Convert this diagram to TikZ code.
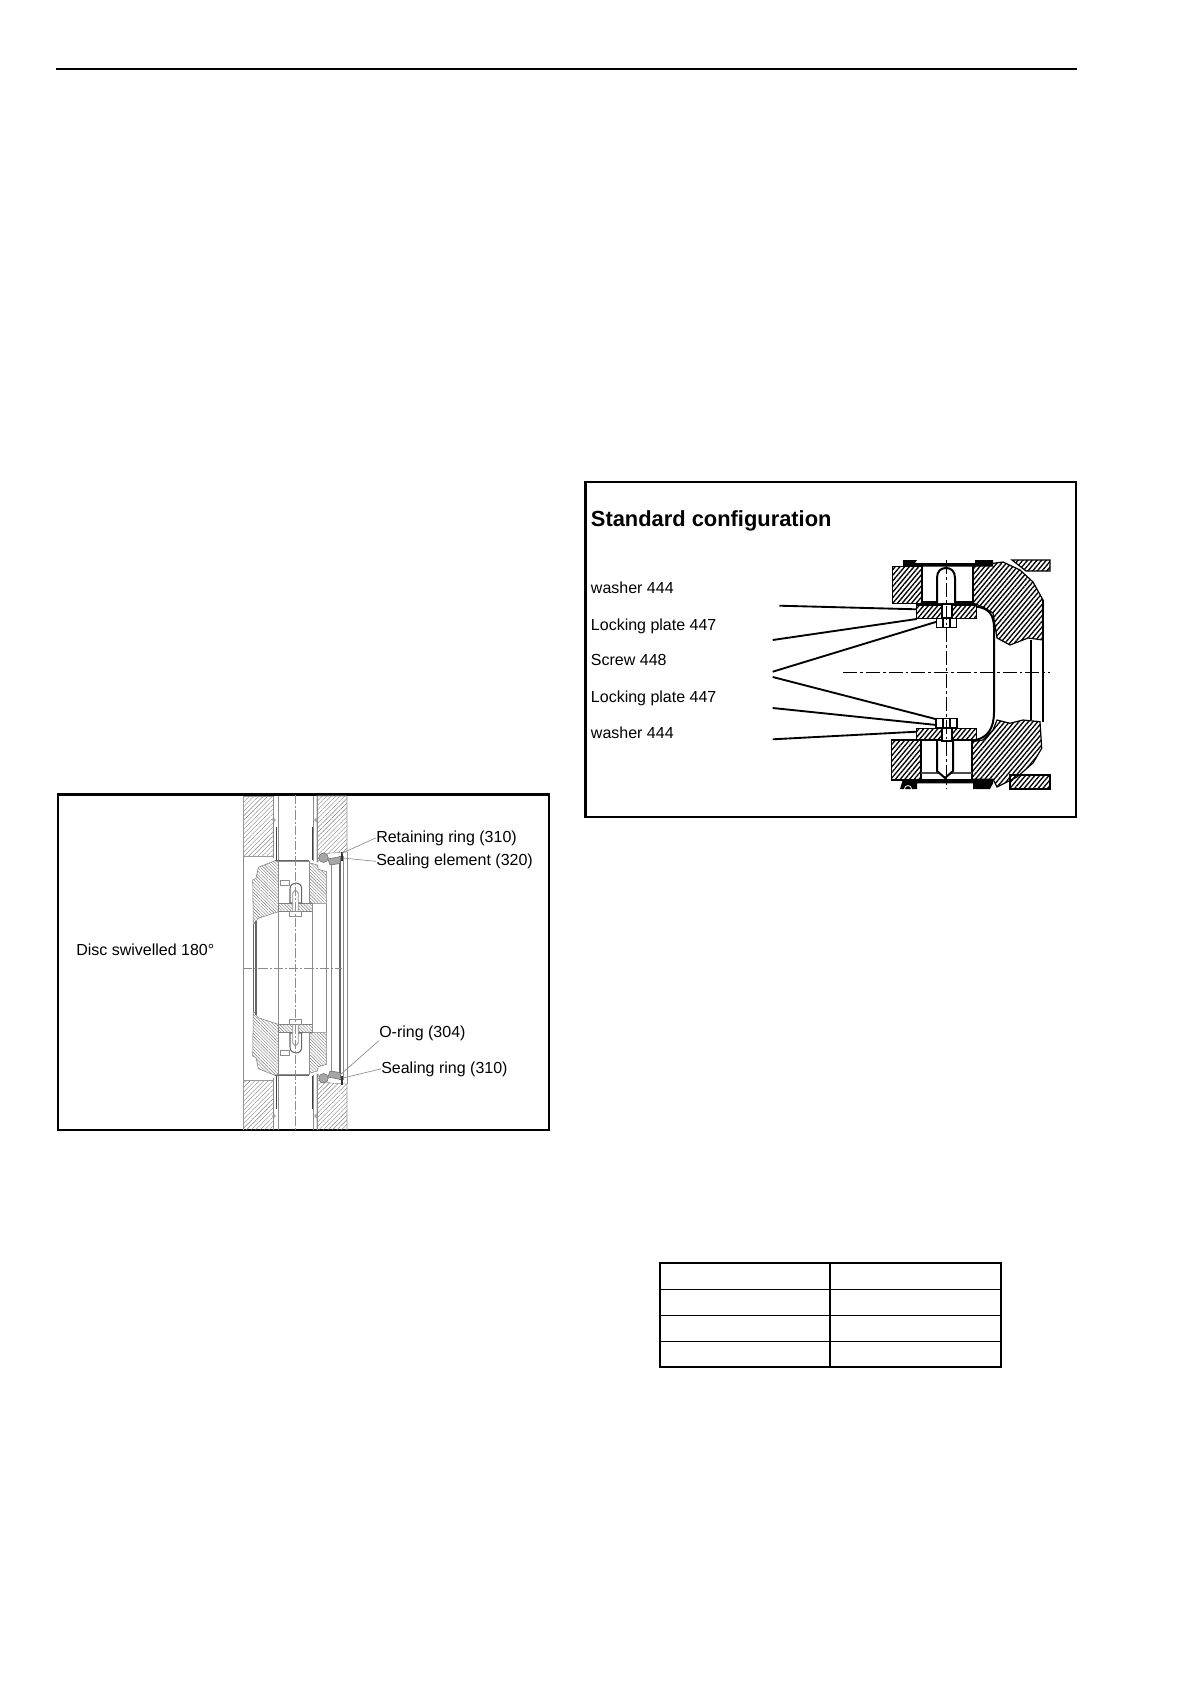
\documentclass[tikz,border=0pt]{standalone}
\usepackage{fontspec}
\setmainfont{Liberation Sans}
\usetikzlibrary{patterns.meta}
\tikzset{
 framebox/.style={draw=black,line width=1.95pt,fill=white},
 lab/.style={anchor=base west,inner sep=0pt,font=\fontsize{12pt}{14pt}\selectfont,text=black},
 title/.style={anchor=base west,inner sep=0pt,font=\fontsize{16.4pt}{18pt}\selectfont\bfseries},
 leadA/.style={draw=black!45,line width=0.5pt},
 leadB/.style={draw=black,line width=1.4pt},
 thinA/.style={draw=black!45,line width=0.5pt},
 darkA/.style={draw=black!60,line width=0.8pt},
 hatchF/.style={draw=black!40,line width=0.4pt,pattern={Lines[angle=45,distance=2.4pt,line width=0.3pt]},pattern color=black!50},
 hatchD/.style={draw=black!50,line width=0.4pt,pattern={Lines[angle=-45,distance=1.7pt,line width=0.3pt]},pattern color=black!55},
 hatchB/.style={draw=black,line width=0.9pt,pattern={Lines[angle=50,distance=2.7pt,line width=1pt]},pattern color=black},
 dashA/.style={draw=black!45,line width=0.45pt,dash pattern=on 7pt off 1.5pt on 1.5pt off 1.5pt},
 dashB/.style={draw=black,line width=0.75pt,dash pattern=on 10.5pt off 2.2pt on 2.2pt off 2.2pt},
 heavy/.style={draw=black,line width=1.5pt},
 mid/.style={draw=black,line width=0.8pt},
}
\newcommand{\halfA}{%
 \path[hatchF] (243,796)--(273,796)--(273,856)--(243,856)--cycle;
 \path[hatchF] (317,796)--(347,796)--(347,852)--(331,853)--(321,855)--(318,862)--(317,862)--cycle;
 \draw[thinA] (273.5,796)--(273.5,858) (278,796)--(278,861) (313,796)--(313,861) (317,796)--(317,862);
 \draw[draw=black!75,line width=1pt] (276.5,827)--(276.5,860) (312.7,827)--(312.7,860);
 \draw[thinA,fill=white] (274,820) circle (1.4);
 \draw[thinA,fill=white] (316,820) circle (1.4);
 \path[hatchD] (275,860.7)--(258.3,867.3)--(256,878.3)--(252.7,880)--(253.3,925)--(258.3,918.3)--(278.3,911.7)--(278.3,861.7)--cycle;
 \path[hatchD] (309.3,862.7)--(317.3,865)--(318.3,869.3)--(326.7,871.7)--(326.7,903.3)--(312.7,903.3)--(309.3,901.7)--cycle;
 \draw[darkA] (275,860.8)--(309,860.8);
 \draw[thinA,fill=white] (278.3,861.5) rectangle (309.3,903.3);
 \path[hatchD] (278.3,903.3) rectangle (312.7,911.7);
 \draw[thinA,fill=white] (280,880.7) rectangle (289.3,885.7);
 \draw[darkA,fill=white] (290,903)--(290,889)..controls (290,885) and (293,883)..(295.8,883)..controls (299,883) and (301.7,885)..(301.7,889)--(301.7,903)--cycle;
 \draw[thinA,fill=white] (292.7,911.7)--(292.7,893)--(295.3,890)--(298.3,893)--(298.3,911.7)--cycle;
 \draw[thinA,fill=white] (289.3,911.7) rectangle (301.7,916.7);
 \draw[thinA] (243,856)--(243,968) (278.3,912)--(278.3,968) (312.7,904)--(312.7,968) (326.7,904)--(326.7,968) (331,862)--(331,968) (347,852)--(347,968) (343,856)--(343,968);
 \draw[darkA] (253.5,925)--(253.5,968) (256,921)--(256,968) (340,856)--(340,968);
 \path[draw=black!60,fill=black!35,line width=0.4pt] (328,859)--(341,856.5)--(340,863.5)--(330,865)--cycle;
 \draw[draw=black!80,line width=1.2pt] (342,851.5)--(342,860.5);
 \draw[draw=black!60,line width=0.4pt,fill=black!35] (323.5,857.7) circle (4.8);
 \draw[dashA] (295.3,795)--(295.3,968);
}
\begin{document}
\begin{tikzpicture}[x=0.75pt,y=-0.75pt]
\useasboundingbox (0,0) rectangle (1190,1684);
\fill[white] (0,0) rectangle (1190,1684);
% header rule
\coordinate (ruleL) at (56,68.7);
\coordinate (ruleR) at (1077,68.7);
\draw[black,line width=1.3pt] (ruleL)--(ruleR);

% ---------- left figure
\draw[framebox] (58,794.5) rectangle (549,1130);
\halfA
\begin{scope}
\clip (200,968) rectangle (400,1129);
\begin{scope}[shift={(0,1936)},yscale=-1]
\halfA
\end{scope}
\end{scope}
\draw[dashA] (243,968)--(342,968);
\node[lab] (disc) at (76,955) {Disc swivelled 180°};
\node[lab] (retain) at (376,842) {Retaining ring (310)};
\node[lab] (selem) at (376,865.5) {Sealing element (320)};
\node[lab] (oring) at (379,1037) {O-ring (304)};
\node[lab] (sring) at (381,1073) {Sealing ring (310)};
\coordinate (p1) at (341.7,853.3);
\coordinate (p2) at (343,858);
\coordinate (p3) at (340,1075);
\coordinate (p4) at (343,1078);
\draw[leadA] (retain.west)--(p1);
\draw[leadA] (selem.west)--(p2);
\draw[leadA] (oring.south west)--(p3);
\draw[leadA] (sring.west)--(p4);

% ---------- right figure
\draw[framebox] (585.5,482) rectangle (1076,817);
\node[title] (std) at (590.7,526) {Standard configuration};
\node[lab] (w1) at (590.7,593) {washer 444};
\node[lab] (l1) at (590.7,630) {Locking plate 447};
\node[lab] (s1) at (590.7,665) {Screw 448};
\node[lab] (l2) at (590.7,702) {Locking plate 447};
\node[lab] (w2) at (590.7,738) {washer 444};
% top part
\fill[black] (903,560)--(917,560)--(915,563)--(975,563)--(975,560)--(993,560)--(993,566.5)--(903,566.5)--cycle;
\path[hatchB] (892.5,566.5) rectangle (922,603.5);
\path[hatchB] (1012,560)--(1050,560)--(1050,571)--(1026,571)--cycle;
\path[hatchB] (973,566)--(1003,562)--(1020,570)--(1033,582)--(1043,600)--(1043,640)--(1028,638)--(1010,645)--(997,638)--(993,613)--(983,607)--(973,603)--cycle;
\draw[heavy] (922,566)--(922,603) (973,566)--(973,603);
\fill[black] (922,601)--(973,601)--(973,605)--(922,605)--cycle;
\draw[heavy,fill=white] (937,603)--(937,578)..controls (937,571) and (941,568)..(946,568)..controls (951,568) and (955,571)..(955,578)--(955,603);
\path[hatchB] (916.7,605) rectangle (976.7,618.3);
\draw[line width=1.5pt,fill=white] (941.7,604) rectangle (951.7,618.3);
\draw[mid,fill=white] (936.7,618.3) rectangle (956.7,627.3);
\draw[mid] (943,618.3)--(943,627.3) (950,618.3)--(950,627.3);
% cavity
\draw[heavy] (976.7,606.7)..controls (988,608) and (994,614)..(994,628)--(994,712)..controls (994,728) and (988,737)..(976,740);
\draw[heavy] (1030.7,640)--(1030.7,720);
\draw[line width=1.6pt] (1043,600)--(1043,722);
% bottom part
\path[hatchB] (1010,775) rectangle (1050,789);
\path[hatchB] (971.7,741.7)--(983,740)--(993,730)--(997,720)--(1010,723.3)--(1023,720)--(1040,721.7)--(1041.7,748.3)--(1033,763)--(1017,777)--(997,787)--(993,779.3)--(971.7,779.3)--cycle;
\path[hatchB] (891.7,740) rectangle (920.7,780);
\draw[heavy] (921,740)--(921,779) (972,740)--(972,779);
\draw[mid,draw=black!70] (921,773)--(972,773);
\fill[black] (903,779)--(993,779)--(993,783.3)--(990,789)--(973,789)--(973,783.3)--(917,783.3)--(917,789)--(900,789)--cycle;
\draw[white,line width=0.6pt] (908,789) circle (3.5);
\draw[heavy,fill=white] (937,740)--(937,771)--(945,778)--(953,771)--(953,740);
\path[hatchB] (916.7,728.3) rectangle (976.7,740);
\draw[line width=1.5pt,fill=white] (941.7,728) rectangle (951.7,741);
\draw[mid,fill=white] (936,718.3) rectangle (957,728);
\draw[mid] (943,718.3)--(943,728) (950,718.3)--(950,728);
% centre lines
\draw[dashB] (946.7,560)--(946.7,789);
\draw[dashB] (843,672.7)--(1050,672.7);
% leaders
\coordinate (a1) at (779.3,605.7); \coordinate (b1) at (916.7,609.3);
\coordinate (a2) at (772.7,640);   \coordinate (b2) at (916.7,619);
\coordinate (a3) at (772.7,671.7); \coordinate (b3) at (936.7,621.7);
\coordinate (a4) at (772.7,677);   \coordinate (b4) at (936.7,719.3);
\coordinate (a5) at (772.7,708);   \coordinate (b5) at (936.7,725);
\coordinate (a6) at (772.7,739.3); \coordinate (b6) at (916.7,731.7);
\draw[leadB] (a1)--(b1);
\draw[leadB] (a2)--(b2);
\draw[leadB] (a3)--(b3);
\draw[leadB] (a4)--(b4);
\draw[leadB] (a5)--(b5);
\draw[leadB] (a6)--(b6);

% ---------- table
\coordinate (tTL) at (660,1263);
\coordinate (tBR) at (1001,1367);
\draw[black,line width=1.1pt] (830,1263)--(830,1367) (660,1289.3)--(1001,1289.3) (660,1315.3)--(1001,1315.3) (660,1341.3)--(1001,1341.3);
\draw[black,line width=2.1pt] (tTL) rectangle (tBR);
\end{tikzpicture}
\end{document}
